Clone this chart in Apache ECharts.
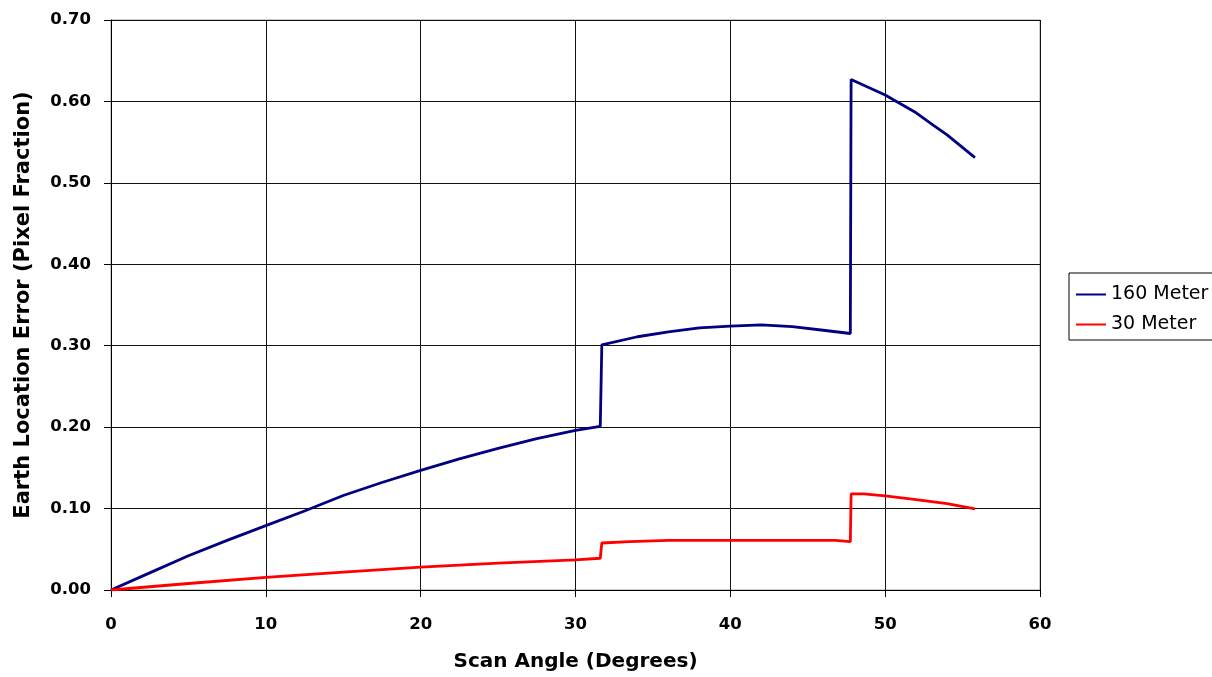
<!DOCTYPE html>
<html>
<head>
<meta charset="utf-8">
<title>Earth Location Error</title>
<script src="https://cdn.jsdelivr.net/npm/echarts@6/dist/echarts.min.js"></script>
<style>
  html, body { margin: 0; padding: 0; background: #fff; }
  #chart { width: 1212px; height: 677px; }
</style>
</head>
<body>
<div id="chart"></div>
<script>
// scan angle (degrees) and error (pixel fraction)
var angles160 = [0, 2.5, 5, 7.5, 10, 12.5, 15, 17.5, 20, 22.5, 25, 27.5, 30, 31.6,
  31.7, 34, 36, 38, 40, 42, 44, 46, 47.75,
  47.8, 50, 52, 53.1, 54, 55.8];
var error160 = [0, 0.021, 0.042, 0.061, 0.079, 0.097, 0.116, 0.132, 0.147, 0.161, 0.174, 0.186, 0.196, 0.201,
  0.301, 0.311, 0.317, 0.322, 0.324, 0.3255, 0.3235, 0.319, 0.315,
  0.627, 0.608, 0.586, 0.571, 0.559, 0.531];

var angles30 = [0, 5, 10, 15, 20, 25, 30, 31.6,
  31.7, 33.5, 36, 46.8, 46.9, 47.75,
  47.8, 48.6, 50, 52, 54, 55.8];
var error30 = [0, 0.008, 0.0156, 0.022, 0.028, 0.033, 0.037, 0.039,
  0.0577, 0.0594, 0.061, 0.061, 0.0594, 0.0594,
  0.118, 0.118, 0.1155, 0.111, 0.106, 0.0995];

var seriesNames = ["160 Meter", "30 Meter"];

function pairs(xs, ys) {
  return xs.map(function (x, i) { return [x, ys[i]]; });
}

var myChart = echarts.init(document.getElementById("chart"));
var font = "DejaVu Sans";

myChart.setOption({
  backgroundColor: "#fff",
  animation: false,
  grid: {
    left: 111,
    right: 172,
    top: 20,
    bottom: 87,
    show: true,
    borderColor: "#999",
    borderWidth: 1
  },
  legend: {
    orient: "vertical",
    left: 1069,
    top: 273,
    padding: [12, 30, 6, 7],
    itemGap: 11,
    itemWidth: 30,
    itemHeight: 2,
    icon: "rect",
    borderColor: "#000",
    borderWidth: 1,
    textStyle: { fontFamily: font, fontSize: 19, color: "#000" },
    data: seriesNames
  },
  xAxis: {
    type: "value",
    min: 0,
    max: 60,
    interval: 10,
    name: "Scan Angle (Degrees)",
    nameLocation: "middle",
    nameGap: 62,
    nameTextStyle: { fontFamily: font, fontSize: 20, fontWeight: "bold", color: "#000" },
    axisLine: { show: true, lineStyle: { color: "#000", width: 1 } },
    axisTick: { show: true, length: 7, lineStyle: { color: "#000" } },
    axisLabel: { margin: 26, fontFamily: font, fontSize: 16.5, fontWeight: "bold", color: "#000" },
    splitLine: { show: true, lineStyle: { color: "#111", width: 1 } }
  },
  yAxis: {
    type: "value",
    min: 0,
    max: 0.7,
    interval: 0.1,
    name: "Earth Location Error (Pixel Fraction)",
    nameLocation: "middle",
    nameGap: 77,
    nameRotate: 90,
    nameTextStyle: { fontFamily: font, fontSize: 21, fontWeight: "bold", color: "#000" },
    axisLine: { show: true, lineStyle: { color: "#000", width: 1 } },
    axisTick: { show: true, length: 7, lineStyle: { color: "#000" } },
    axisLabel: {
      margin: 20,
      fontFamily: font,
      fontSize: 16.5,
      fontWeight: "bold",
      color: "#000",
      formatter: function (v) { return v.toFixed(2); }
    },
    splitLine: { show: true, lineStyle: { color: "#111", width: 1 } }
  },
  series: [
    {
      name: seriesNames[0],
      type: "line",
      symbol: "none",
      color: "#000080",
      lineStyle: { color: "#000080", width: 2.8 },
      data: pairs(angles160, error160)
    },
    {
      name: seriesNames[1],
      type: "line",
      symbol: "none",
      color: "#ff0000",
      lineStyle: { color: "#ff0000", width: 2.8 },
      data: pairs(angles30, error30)
    }
  ]
});
</script>
</body>
</html>
